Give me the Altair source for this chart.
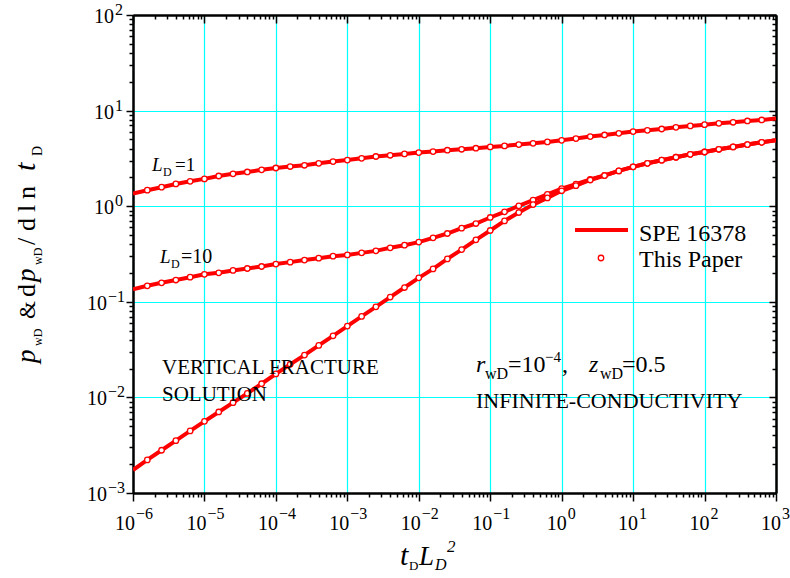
import altair as alt
import pandas as pd

# ---------------- data ----------------
log_t = [-6.0, -5.8, -5.6, -5.4, -5.2, -5.0, -4.8, -4.6, -4.4, -4.2,
         -4.0, -3.8, -3.6, -3.4, -3.2, -3.0, -2.8, -2.6, -2.4, -2.2,
         -2.0, -1.8, -1.6, -1.4, -1.2, -1.0, -0.8, -0.6, -0.4, -0.2,
         0.0, 0.2, 0.4, 0.6, 0.8, 1.0, 1.2, 1.4, 1.6, 1.8,
         2.0, 2.2, 2.4, 2.6, 2.8, 3.0]

p_LD1 = [1.36, 1.47, 1.58, 1.71, 1.82, 1.93, 2.07, 2.18, 2.28, 2.40,
         2.51, 2.60, 2.68, 2.81, 2.93, 3.04, 3.17, 3.31, 3.41, 3.52,
         3.64, 3.73, 3.85, 3.94, 4.04, 4.17, 4.27, 4.41, 4.55, 4.70,
         4.89, 5.10, 5.35, 5.56, 5.79, 6.03, 6.22, 6.42, 6.69, 6.91,
         7.13, 7.36, 7.55, 7.79, 7.98, 8.25]

p_LD10 = [0.135, 0.147, 0.158, 0.169, 0.181, 0.194, 0.201, 0.213, 0.223, 0.234,
          0.248, 0.260, 0.273, 0.286, 0.300, 0.309, 0.325, 0.341, 0.367, 0.391,
          0.421, 0.467, 0.518, 0.589, 0.659, 0.762, 0.873, 1.01, 1.16, 1.33,
          1.53, 1.70, 1.91, 2.10, 2.34, 2.58, 2.81, 3.03, 3.25, 3.49,
          3.69, 3.94, 4.17, 4.41, 4.66, 4.89]

p_VF = [0.00174, 0.00222, 0.00280, 0.00353, 0.00446, 0.00562, 0.00704, 0.00881, 0.0110, 0.0139,
        0.0176, 0.0222, 0.0277, 0.0350, 0.0441, 0.0557, 0.0703, 0.0885, 0.112, 0.141,
        0.178, 0.221, 0.281, 0.352, 0.445, 0.557, 0.702, 0.859, 1.04, 1.22,
        1.45, 1.64, 1.88, 2.09, 2.34, 2.58, 2.81, 3.03, 3.25, 3.49,
        3.69, 3.94, 4.17, 4.41, 4.66, 4.89]

curve_names = ["LD=1", "LD=10", "vertical fracture"]

x_major = [1e-6, 1e-5, 1e-4, 1e-3, 1e-2, 1e-1, 1e0, 1e1, 1e2, 1e3]
x_exp_labels = ["−6", "−5", "−4", "−3", "−2", "−1", "0", "1", "2", "3"]
y_major = [1e-3, 1e-2, 1e-1, 1e0, 1e1, 1e2]
y_exp_labels = ["−3", "−2", "−1", "0", "1", "2"]

x_minor = [m * 10.0 ** e for e in range(-6, 3) for m in range(2, 10)]
y_minor = [m * 10.0 ** e for e in range(-3, 2) for m in range(2, 10)]

# ---------------- tables ----------------
rows = []
for name, vals in zip(curve_names, [p_LD1, p_LD10, p_VF]):
    for lt, v in zip(log_t, vals):
        rows.append({"t": 10.0 ** lt, "v": v, "curve": name})
df = pd.DataFrame(rows)
df_mk = df[(df["t"] > 1.01e-6) & (df["t"] < 0.99e3)]

df_xl = pd.DataFrame({"t": x_major, "e": x_exp_labels})
df_xl["neg"] = df_xl["e"].str.startswith("−")
df_yl = pd.DataFrame({"v": y_major, "e": y_exp_labels})
df_yl["neg"] = df_yl["e"].str.startswith("−")

W, H = 643, 478
PL, PT = 133, 15
RED = "#ff0000"
SERIF = "Liberation Serif"

xs = alt.Scale(type="log", domain=[1e-6, 1e3], nice=False)
ys = alt.Scale(type="log", domain=[1e-3, 1e2], nice=False)

common = dict(domainColor="black", domainWidth=2, tickColor="black", tickWidth=1.5,
              title=None, labels=False)

ax_bottom = alt.Axis(orient="bottom", values=x_major, tickSize=8,
                     grid=True, gridColor="#00ffff", gridWidth=1.2, **common)
ax_left = alt.Axis(orient="left", values=y_major, tickSize=7,
                   grid=True, gridColor="#00ffff", gridWidth=1.2, **common)
ax_bottom_minor = alt.Axis(orient="bottom", values=x_minor, tickSize=4, grid=False, **common)
ax_left_minor = alt.Axis(orient="left", values=y_minor, tickSize=4, grid=False, **common)
ax_top = alt.Axis(orient="bottom", offset=-H, values=x_major, tickSize=8, grid=False, **common)
ax_right = alt.Axis(orient="left", offset=-W, values=y_major, tickSize=7, grid=False, **common)
ax_top_minor = alt.Axis(orient="bottom", offset=-H, values=x_minor, tickSize=4, grid=False, **common)
ax_right_minor = alt.Axis(orient="left", offset=-W, values=y_minor, tickSize=4, grid=False, **common)

lines = alt.Chart(df).mark_line(color=RED, strokeWidth=4, clip=True).encode(
    x=alt.X("t:Q", scale=xs, axis=ax_bottom),
    y=alt.Y("v:Q", scale=ys, axis=ax_left),
    detail="curve:N",
)
markers = alt.Chart(df_mk).mark_point(shape="circle", filled=True, fill="white", stroke=RED,
                                      strokeWidth=1.3, size=30, opacity=1).encode(
    x=alt.X("t:Q", scale=xs, axis=ax_bottom_minor),
    y=alt.Y("v:Q", scale=ys, axis=ax_left_minor),
)
frame1 = alt.Chart(df_mk).mark_point(opacity=0).encode(
    x=alt.X("t:Q", scale=xs, axis=ax_top),
    y=alt.Y("v:Q", scale=ys, axis=ax_right),
)
frame2 = alt.Chart(df_mk).mark_point(opacity=0).encode(
    x=alt.X("t:Q", scale=xs, axis=ax_top_minor),
    y=alt.Y("v:Q", scale=ys, axis=ax_right_minor),
)

# ---------------- tick labels: "10" with superscript exponent ----------------
def xlab(neg, base_dx, exp_dx):
    d = df_xl[df_xl["neg"] == neg]
    b = alt.Chart(d).mark_text(font=SERIF, fontSize=20, align="right", baseline="alphabetic",
                               dx=base_dx, color="black").encode(
        x=alt.X("t:Q", scale=xs, axis=None), y=alt.value(530 - PT), text=alt.value("10"))
    e = alt.Chart(d).mark_text(font=SERIF, fontSize=16, align="left", baseline="alphabetic",
                               dx=exp_dx, color="black").encode(
        x=alt.X("t:Q", scale=xs, axis=None), y=alt.value(519 - PT), text="e:N")
    return [b, e]


def ylab(neg, base_right, exp_right):
    d = df_yl[df_yl["neg"] == neg]
    b = alt.Chart(d).mark_text(font=SERIF, fontSize=20, align="right", baseline="alphabetic",
                               dy=8, color="black").encode(
        x=alt.value(base_right - PL), y=alt.Y("v:Q", scale=ys, axis=None), text=alt.value("10"))
    e = alt.Chart(d).mark_text(font=SERIF, fontSize=16, align="right", baseline="alphabetic",
                               dy=0, color="black").encode(
        x=alt.value(exp_right - PL), y=alt.Y("v:Q", scale=ys, axis=None), text="e:N")
    return [b, e]


tick_labels = (xlab(True, 2, 3) + xlab(False, 5, 6) +
               ylab(True, 107, 125) + ylab(False, 114, 123))


def txt(s, x, y, size, style="normal", angle=0, font=SERIF):
    return alt.Chart(pd.DataFrame({"s": [s]})).mark_text(
        font=font, fontSize=size, fontStyle=style, angle=angle, align="left",
        baseline="alphabetic", color="black",
    ).encode(x=alt.value(x - PL), y=alt.value(y - PT), text="s:N")


texts = [
    # curve labels
    txt("L", 152, 171, 19, "italic"), txt("D", 163, 176, 12), txt("=1", 175, 171, 19),
    txt("L", 160, 263, 19, "italic"), txt("D", 171, 268, 12), txt("=10", 181, 263, 20),
    # annotation left
    txt("VERTICAL FRACTURE", 162, 374, 21),
    txt("SOLUTION", 162, 401, 21),
    # annotation right
    txt("r", 476, 372, 24, "italic"), txt("wD", 485, 379, 16),
    txt("=10", 508, 372, 24), txt("−4", 545, 362, 15), txt(",", 562, 372, 24),
    txt("z", 589, 372, 24, "italic"), txt("wD", 600, 379, 16),
    txt("=0.5", 622, 372, 24),
    txt("INFINITE-CONDUCTIVITY", 476, 408, 22),
    # legend text
    txt("SPE 16378", 639, 241, 24),
    txt("This Paper", 639, 267, 24),
    # x title
    txt("t", 400, 565, 30, "italic"), txt("D", 409, 570, 13),
    txt("L", 419, 565, 27, "italic"), txt("D", 435, 570, 16, "italic"),
    txt("2", 447, 552, 17, "italic"),
    # y title (rotated, reading upwards)
    txt("p", 35, 363, 27, "italic", 270), txt("wD", 42, 346, 12, "normal", 270),
    txt("&", 35, 319, 23, "normal", 270),
    txt("d", 35, 297, 26, "normal", 270),
    txt("p", 35, 282, 27, "italic", 270), txt("wD", 42, 265, 12, "normal", 270),
    txt("/", 35, 245, 26, "normal", 270),
    txt("d", 35, 231, 26, "normal", 270),
    txt("l", 35, 212, 26, "normal", 270),
    txt("n", 35, 199, 26, "normal", 270),
    txt("t", 35, 171, 30, "italic", 270), txt("D", 42, 156, 14, "normal", 270),
]

leg_line = alt.Chart(pd.DataFrame({"s": ["SPE 16378"]})).mark_rule(
    color=RED, strokeWidth=4).encode(
    x=alt.value(575 - PL), x2=alt.value(628 - PL), y=alt.value(230 - PT))
leg_pt = alt.Chart(pd.DataFrame({"s": ["This Paper"]})).mark_point(
    shape="circle", filled=True, fill="white", stroke=RED, strokeWidth=1.3, size=30,
    opacity=1).encode(x=alt.value(601 - PL), y=alt.value(258 - PT))

chart = alt.layer(
    lines, markers, frame1, frame2, leg_line, leg_pt, *tick_labels, *texts
).resolve_axis(x="independent", y="independent").properties(
    width=W, height=H,
    autosize=alt.AutoSizeParams(type="none"),
    padding={"left": PL, "top": PT, "right": 790 - PL - W, "bottom": 578 - PT - H},
    background="white",
).configure_view(stroke=None)

chart.save("out.html", embed_options={"renderer": "svg", "actions": False})
